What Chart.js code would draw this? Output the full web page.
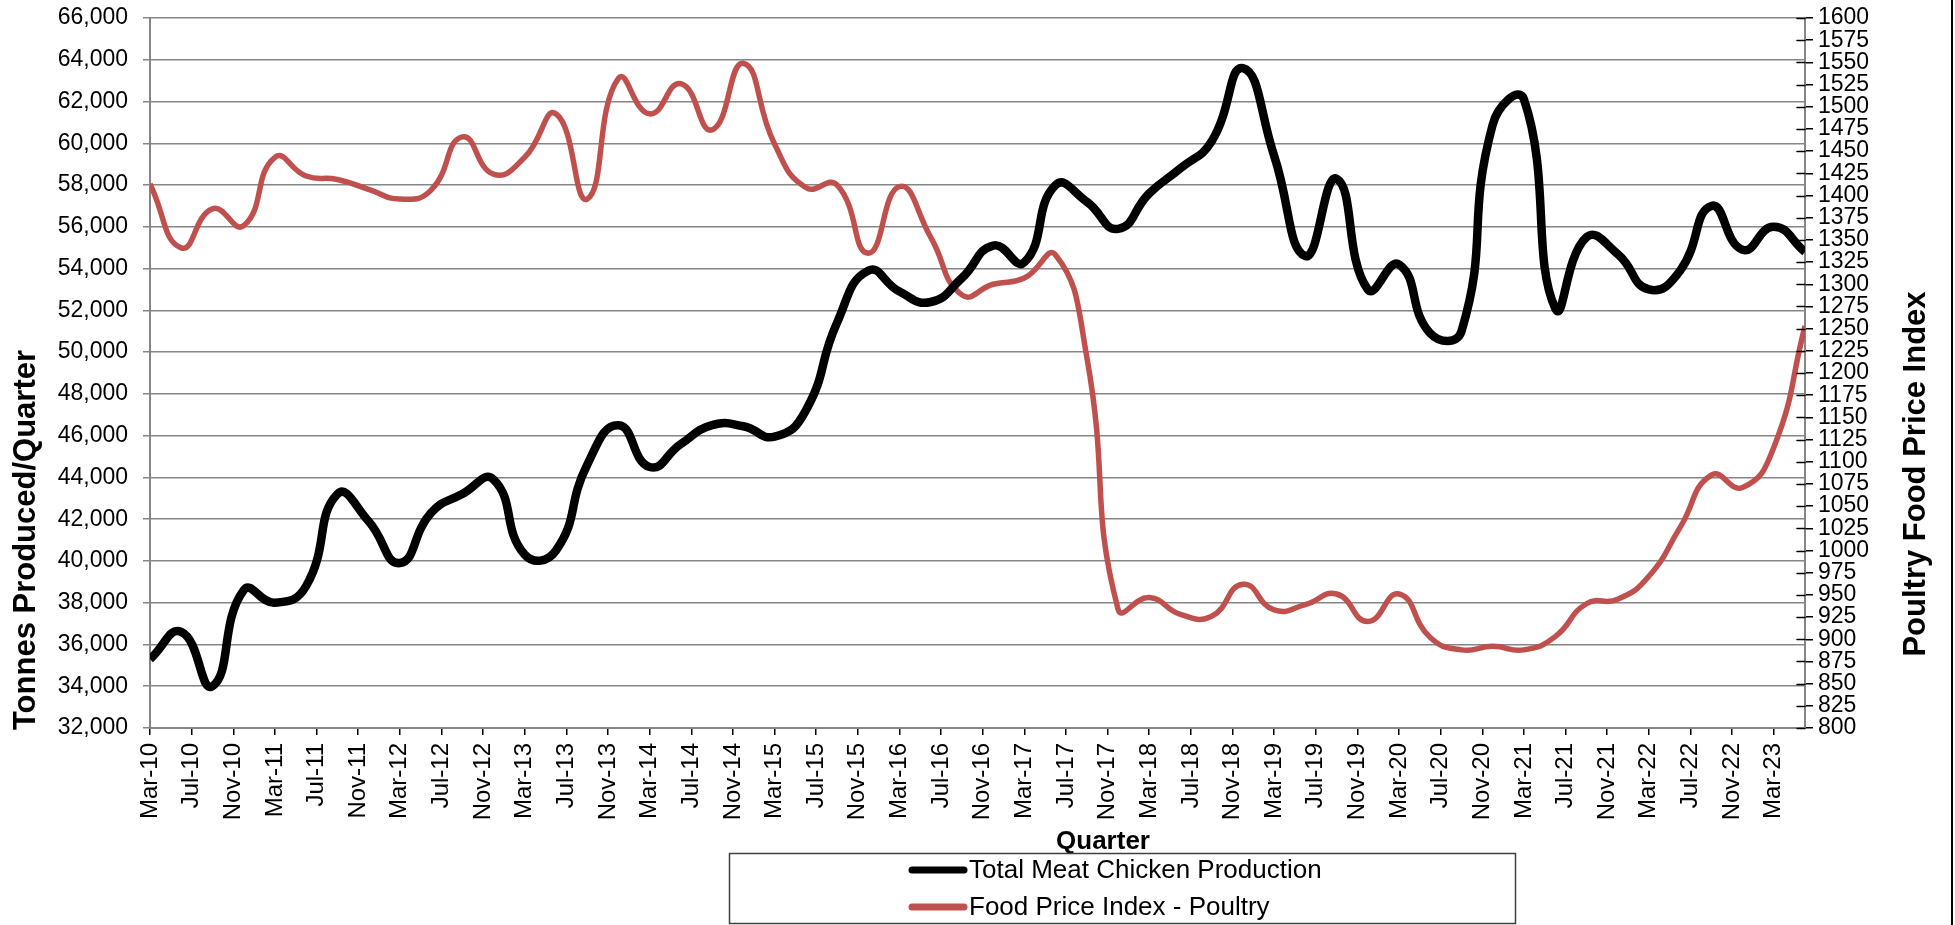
<!DOCTYPE html>
<html>
<head>
<meta charset="utf-8">
<title>Meat Chicken Production vs Poultry Food Price Index</title>
<script src="https://cdn.jsdelivr.net/npm/chart.js@4.4.1/dist/chart.umd.min.js"></script>
<style>
  body { margin: 0; background: #fff; }
  #wrap { width: 1955px; height: 925px; position: relative; }
</style>
</head>
<body>
<div id="wrap"><canvas id="chickenChart" width="1955" height="925"></canvas></div>
<script>
// quarterly data points
const quarters = [
  'Mar-10','Jun-10','Sep-10','Dec-10','Mar-11','Jun-11','Sep-11','Dec-11',
  'Mar-12','Jun-12','Sep-12','Dec-12','Mar-13','Jun-13','Sep-13','Dec-13',
  'Mar-14','Jun-14','Sep-14','Dec-14','Mar-15','Jun-15','Sep-15','Dec-15',
  'Mar-16','Jun-16','Sep-16','Dec-16','Mar-17','Jun-17','Sep-17','Dec-17',
  'Mar-18','Jun-18','Sep-18','Dec-18','Mar-19','Jun-19','Sep-19','Dec-19',
  'Mar-20','Jun-20','Sep-20','Dec-20','Mar-21','Jun-21','Sep-21','Dec-21',
  'Mar-22','Jun-22','Sep-22','Dec-22','Mar-23','Jun-23'
];

const chickenProduction = [
  35300, 36600, 34000, 38600, 38000, 38800, 43200, 41900,
  39900, 42300, 43200, 43900, 40300, 40500, 44600, 46500,
  44500, 45600, 46500, 46450, 45950, 47200, 51400, 53900,
  52900, 52400, 53550, 55100, 54300, 58000, 57200, 55900,
  57600, 58800, 60100, 63600, 59400, 54600, 58300, 53000,
  54200, 50900, 51000, 60900, 62100, 52100, 55500, 54700,
  53000, 53900, 57000, 54900, 56000, 54800
];

const poultryPriceIndex = [
  1413, 1341, 1385, 1366, 1443, 1422, 1418, 1407,
  1396, 1406, 1466, 1424, 1443, 1492, 1396, 1532,
  1492, 1526, 1474, 1549, 1458, 1409, 1412, 1335,
  1410, 1353, 1288, 1300, 1307, 1333, 1218, 934,
  947, 928, 926, 962, 933, 939, 951, 920,
  951, 902, 888, 892, 888, 903, 940, 945,
  971, 1026, 1085, 1071, 1116, 1253
];

// axis labels every 4 months
const tickLabels = [
  'Mar-10','Jul-10','Nov-10','Mar-11','Jul-11','Nov-11','Mar-12','Jul-12',
  'Nov-12','Mar-13','Jul-13','Nov-13','Mar-14','Jul-14','Nov-14','Mar-15',
  'Jul-15','Nov-15','Mar-16','Jul-16','Nov-16','Mar-17','Jul-17','Nov-17',
  'Mar-18','Jul-18','Nov-18','Mar-19','Jul-19','Nov-19','Mar-20','Jul-20',
  'Nov-20','Mar-21','Jul-21','Nov-21','Mar-22','Jul-22','Nov-22','Mar-23'
];

const monthNames = ['Jan','Feb','Mar','Apr','May','Jun','Jul','Aug','Sep','Oct','Nov','Dec'];

// months since Mar-10
function monthIndex(lbl) {
  const parts = lbl.split('-');
  return (parseInt(parts[1]) - 10) * 12 + monthNames.indexOf(parts[0]) - 2;
}

function toPoints(values) {
  return values.map((v, i) => ({ x: monthIndex(quarters[i]), y: v }));
}

const FONT = "'Liberation Sans', Arial, sans-serif";
const gridGrey = '#868686';

// fixed axis box sizes so the plot area lands where the original one is
function fitY(scale) {
  scale.width = 150;
  scale.paddingTop = 0;
  scale.paddingBottom = 0;
}

const overlayPlugin = {
  id: 'overlay',
  afterDraw(chart) {
    const ctx = chart.ctx;
    ctx.save();
    ctx.fillStyle = '#000';
    ctx.textBaseline = 'middle';
    ctx.textAlign = 'center';

    // axis titles
    ctx.font = 'bold 31px ' + FONT;
    ctx.save();
    ctx.translate(26, 540);
    ctx.rotate(-Math.PI / 2);
    ctx.fillText('Tonnes Produced/Quarter', 0, 0);
    ctx.restore();

    ctx.save();
    ctx.translate(1916, 474);
    ctx.rotate(-Math.PI / 2);
    ctx.fillText('Poultry Food Price Index', 0, 0);
    ctx.restore();

    ctx.font = 'bold 26px ' + FONT;
    ctx.fillText('Quarter', 1103, 842);

    // legend box
    ctx.strokeStyle = '#404040';
    ctx.lineWidth = 1.5;
    ctx.strokeRect(729.5, 853.5, 786, 70);

    ctx.font = '26px ' + FONT;
    ctx.textAlign = 'left';
    const rows = [870, 907];
    chart.data.datasets.forEach((ds, i) => {
      const y = rows[i];
      ctx.strokeStyle = ds.borderColor;
      ctx.lineWidth = 7;
      ctx.lineCap = 'round';
      ctx.beginPath();
      ctx.moveTo(912, y);
      ctx.lineTo(964, y);
      ctx.stroke();
      ctx.fillText(ds.label, 969, y + 1);
    });

    // right-axis ticks cross the axis line
    const y1 = chart.scales.y1;
    ctx.strokeStyle = '#000';
    ctx.lineWidth = 1.5;
    y1.ticks.forEach((t) => {
      const py = Math.round(y1.getPixelForValue(t.value)) + 0.5;
      ctx.beginPath();
      ctx.moveTo(y1.left - 8, py);
      ctx.lineTo(y1.left, py);
      ctx.stroke();
    });

    // right frame edge
    ctx.lineWidth = 2;
    ctx.lineCap = 'butt';
    ctx.beginPath();
    ctx.moveTo(1952, 0);
    ctx.lineTo(1952, 925);
    ctx.stroke();
    ctx.restore();
  }
};

const ctx = document.getElementById('chickenChart').getContext('2d');
new Chart(ctx, {
  type: 'line',
  data: {
    datasets: [{
      label: 'Total Meat Chicken Production',
      data: toPoints(chickenProduction),
      borderColor: '#000000',
      backgroundColor: '#000000',
      borderWidth: 8.5,
      pointRadius: 0,
      tension: 0.5,
      yAxisID: 'y'
    }, {
      label: 'Food Price Index - Poultry',
      data: toPoints(poultryPriceIndex),
      borderColor: '#C0504D',
      backgroundColor: '#C0504D',
      borderWidth: 5.5,
      pointRadius: 0,
      tension: 0.5,
      yAxisID: 'y1'
    }]
  },
  options: {
    responsive: false,
    animation: false,
    layout: { padding: { top: 18, left: 0, right: 0, bottom: 0 } },
    plugins: {
      legend: { display: false },
      tooltip: { enabled: false }
    },
    scales: {
      x: {
        type: 'linear',
        min: 0,
        max: 159,
        afterBuildTicks: (scale) => {
          scale.ticks = tickLabels.map((_, i) => ({ value: i * 4 }));
        },
        afterFit: (scale) => {
          scale.height = 197;
          scale.paddingLeft = 0;
          scale.paddingRight = 0;
        },
        border: { color: gridGrey, width: 2 },
        grid: { drawOnChartArea: false, tickLength: 7, color: '#000', lineWidth: 1.5 },
        ticks: {
          autoSkip: false,
          minRotation: 90,
          maxRotation: 90,
          padding: 8,
          color: '#000',
          font: { family: FONT, size: 24 },
          callback: (v) => tickLabels[Math.round(v / 4)]
        }
      },
      y: {
        position: 'left',
        min: 32000,
        max: 66000,
        afterFit: fitY,
        border: { color: gridGrey, width: 2 },
        grid: { color: gridGrey, lineWidth: 1.5, tickLength: 7 },
        ticks: {
          stepSize: 2000,
          padding: 15,
          color: '#000',
          font: { family: FONT, size: 23 },
          callback: (v) => v.toLocaleString('en-US')
        }
      },
      y1: {
        position: 'right',
        min: 800,
        max: 1600,
        afterFit: fitY,
        border: { color: gridGrey, width: 2 },
        grid: { drawOnChartArea: false, color: '#000', lineWidth: 1.5, tickLength: 8 },
        ticks: {
          stepSize: 25,
          autoSkip: false,
          padding: 5,
          color: '#000',
          font: { family: FONT, size: 23 },
          callback: (v) => String(v)
        }
      }
    }
  },
  plugins: [overlayPlugin]
});
</script>
</body>
</html>
